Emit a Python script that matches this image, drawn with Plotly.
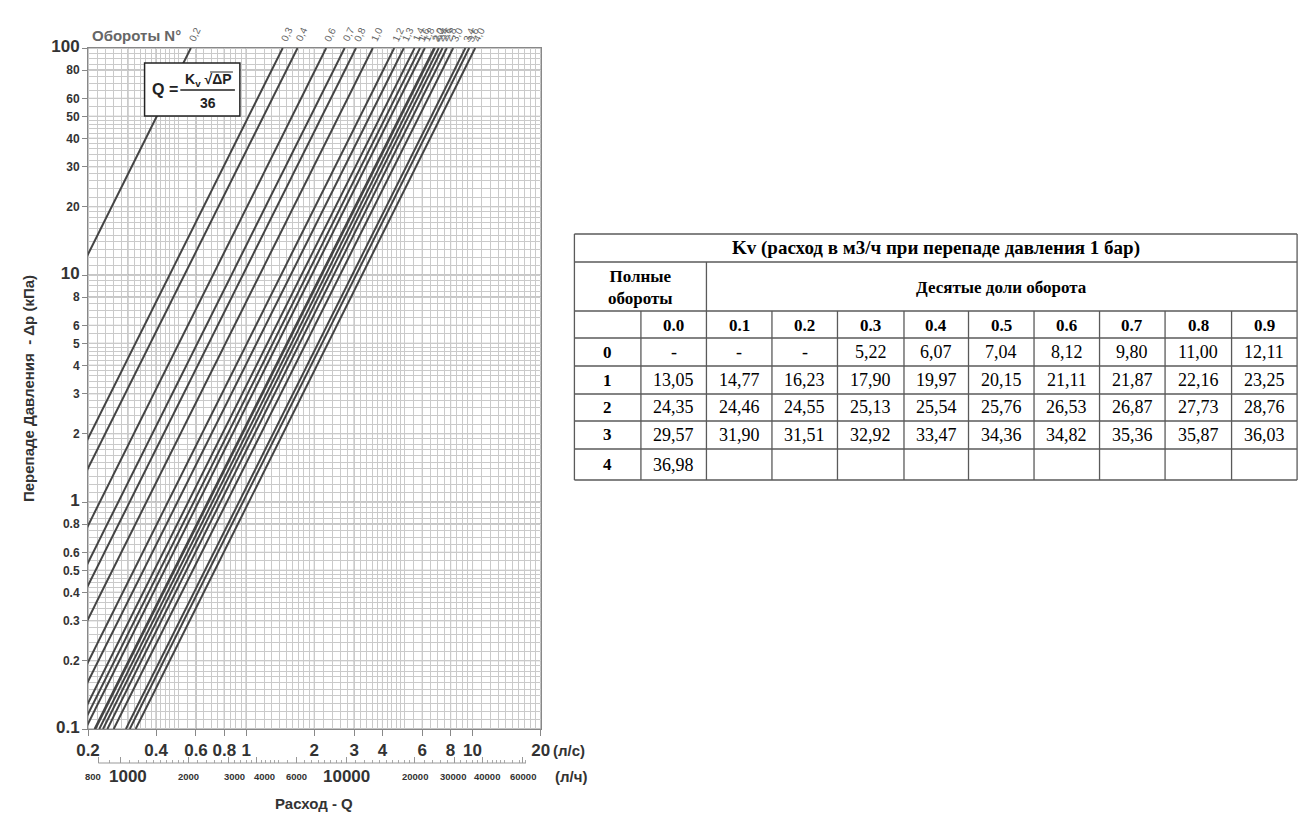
import math
import plotly.graph_objects as go

# линии на графике: обороты и Kv (м3/ч)
line_turns = ["0,2", "0,3", "0,4", "0,6", "0,7", "0,8", "1,0", "1,2", "1,3", "1,4", "1,6",
              "1,8", "2,0", "2,2", "2,4", "2,6", "2,8", "3,0", "3,4", "3,6", "4,0"]
line_kv = [2.05, 5.22, 6.07, 8.12, 9.80, 11.00, 13.05, 16.23, 17.90, 19.97, 21.11,
           22.16, 24.35, 24.55, 25.54, 26.53, 27.73, 29.57, 33.47, 34.82, 36.98]
dp_ends = [0.1, 100]  # кПа

x_ticks = [0.2, 0.4, 0.6, 0.8, 1, 2, 3, 4, 6, 8, 10, 20]
x_major = [0.2, 0.3, 0.4, 0.6, 0.8, 1, 2, 3, 4, 6, 8, 10, 20]
y_ticks = [0.1, 0.2, 0.3, 0.4, 0.5, 0.6, 0.8, 1, 2, 3, 4, 5, 6, 8, 10, 20, 30, 40, 50, 60, 80, 100]
y_big = [0.1, 1, 10, 100]
lh_ticks = [800, 1000, 2000, 3000, 4000, 6000, 10000, 20000, 30000, 40000, 60000]
lh_big = [1000, 10000]
lh_shift = {800: -5, 1000: 8, 3000: 6, 4000: 8, 30000: -2, 40000: 4}  # как в оригинале

# таблица Kv
table_title = "Kv (расход в м3/ч при перепаде давления 1 бар)"
full_turns = ["0", "1", "2", "3", "4"]
tenths = ["0.0", "0.1", "0.2", "0.3", "0.4", "0.5", "0.6", "0.7", "0.8", "0.9"]
kv_row0 = ["-", "-", "-", "5,22", "6,07", "7,04", "8,12", "9,80", "11,00", "12,11"]
kv_row1 = ["13,05", "14,77", "16,23", "17,90", "19,97", "20,15", "21,11", "21,87", "22,16", "23,25"]
kv_row2 = ["24,35", "24,46", "24,55", "25,13", "25,54", "25,76", "26,53", "26,87", "27,73", "28,76"]
kv_row3 = ["29,57", "31,90", "31,51", "32,92", "33,47", "34,36", "34,82", "35,36", "35,87", "36,03"]
kv_row4 = ["36,98", "", "", "", "", "", "", "", "", ""]


def steps(a, b, s):
    n = int(round((b - a) / s))
    return [round(a + i * s, 6) for i in range(n + 1)]


def fine_grid(decades):
    vals = []
    for d in decades:
        vals += steps(1 * d, 2 * d, 0.1 * d) + steps(2 * d, 5 * d, 0.2 * d) + steps(5 * d, 10 * d, 0.5 * d)
    return sorted(set(vals))


x_minor = [v for v in fine_grid([0.1, 1, 10]) if 0.2 <= v <= 20]
y_minor = fine_grid([0.1, 1, 10])

W, H = 1310, 813
ML, MT, MB = 80, 40, 30
PW, PH = W - ML, H - MT - MB


def px(x):
    return (x - ML) / PW


def py(y):
    return (H - MB - y) / PH


CH = "Liberation Sans"
TXT = "#333333"

fig = go.Figure()
for t, kv in zip(line_turns, line_kv):
    fig.add_trace(go.Scatter(
        x=[kv * math.sqrt(p) / 36 for p in dp_ends], y=dp_ends, mode="lines",
        line=dict(color="#444444", width=2), hoverinfo="skip", showlegend=False))
    fig.add_annotation(x=math.log10(kv * 10 / 36), y=1, xref="x", yref="paper",
                       text=t, textangle=-65, showarrow=False, xanchor="center",
                       yanchor="bottom", xshift=4, yshift=2,
                       font=dict(family=CH, size=10, color="#666666"))

# скрытая трасса для второй оси
fig.add_trace(go.Scatter(x=[1], y=[1], xaxis="x2", mode="markers",
                         marker=dict(opacity=0), hoverinfo="skip", showlegend=False))


def fmt(v):
    return ("%g" % v)


y_text = [f"<span style='font-size:{17 if v in y_big else 12}px'>{fmt(v)}</span>" for v in y_ticks]

lh_minor = (steps(800, 2000, 100) + steps(2000, 5000, 200) + steps(5000, 10000, 500)
            + steps(10000, 20000, 1000) + steps(20000, 50000, 2000) + steps(50000, 62000, 4000))

fig.update_layout(
    width=W, height=H, margin=dict(l=ML, r=0, t=MT, b=MB),
    paper_bgcolor="white", plot_bgcolor="white",
    font=dict(family=CH, color=TXT),
    xaxis=dict(type="log", domain=[0, px(536)], range=[math.log10(0.2), math.log10(20)],
               tickvals=x_ticks, ticktext=[fmt(v) for v in x_ticks], tickangle=0,
               tickfont=dict(size=17, weight="bold", color=TXT), ticks="outside",
               ticklen=6, tickcolor="#888888", showgrid=False,
               showline=True, linecolor="#888888", mirror=True, zeroline=False,
               minor=dict(tickvals=x_minor, showgrid=True, gridcolor="#cacaca",
                          gridwidth=0.7, ticks="")),
    xaxis2=dict(type="log", overlaying="x", anchor="free", position=py(755), side="bottom",
                range=[math.log10(0.2), math.log10(20)], showticklabels=False,
                tickvals=[v / 3600 for v in lh_ticks],
                ticks="inside", ticklen=6, tickcolor="#999999", showgrid=False,
                showline=False, zeroline=False,
                minor=dict(tickvals=[v / 3600 for v in lh_minor], ticks="inside",
                           ticklen=3, tickcolor="#aaaaaa", showgrid=False)),
    yaxis=dict(type="log", domain=[py(721), 1], range=[-1, 2],
               tickvals=y_ticks, ticktext=y_text,
               tickfont=dict(size=12, weight="bold", color=TXT), ticks="outside",
               ticklen=5, tickcolor="#888888", showgrid=False,
               showline=True, linecolor="#888888", mirror=True, zeroline=False,
               title=dict(text="Перепаде Давления  - Δp (кПа)",
                          font=dict(size=15, weight="bold", color=TXT), standoff=12),
               minor=dict(tickvals=y_minor, showgrid=True, gridcolor="#cacaca",
                          gridwidth=0.7, ticks="")),
)

# подписи шкалы л/ч
for v in lh_ticks:
    fig.add_annotation(x=math.log10(v / 3600), y=py(768), xref="x", yref="paper",
                       text=str(v), showarrow=False, xanchor="center", yanchor="middle",
                       xshift=lh_shift.get(v, 0),
                       font=dict(family=CH, size=17 if v in lh_big else 9.5,
                                 weight="bold", color=TXT))

shapes = []
# основные линии сетки
for v in x_major:
    shapes.append(dict(type="line", xref="x", yref="paper", x0=v, x1=v,
                       y0=py(721), y1=1, line=dict(color="#8f8f8f", width=1), layer="below"))
for v in y_ticks:
    shapes.append(dict(type="line", xref="paper", yref="y", x0=0, x1=px(536),
                       y0=v, y1=v, line=dict(color="#8f8f8f", width=1), layer="below"))
# линейка л/ч
shapes.append(dict(type="line", xref="x", yref="paper", x0=800 / 3600, x1=62000 / 3600,
                   y0=py(755), y1=py(755), line=dict(color="#999999", width=1)))
# рамка формулы
shapes.append(dict(type="rect", xref="paper", yref="paper", x0=px(137), x1=px(233),
                   y0=py(108), y1=py(55), line=dict(color="#222222", width=1.5),
                   fillcolor="white", layer="above"))
shapes.append(dict(type="line", xref="paper", yref="paper", x0=px(173), x1=px(228),
                   y0=py(82), y1=py(82), line=dict(color="#222222", width=1.5)))
shapes.append(dict(type="line", xref="paper", yref="paper", x0=px(203), x1=px(226),
                   y0=py(64), y1=py(64), line=dict(color="#222222", width=1)))

ann = []


def text(x, y, s, size, bold=True, family=CH, color=TXT, xanchor="center"):
    ann.append(dict(x=px(x), y=py(y), xref="paper", yref="paper", text=s, showarrow=False,
                    xanchor=xanchor, yanchor="middle",
                    font=dict(family=family, size=size, color=color,
                              weight="bold" if bold else "normal")))


text(82, 28, "Обороты N°", 15, color="#666666", xanchor="left")
text(158, 82, "Q =", 16, color="#222222")
text(201, 72, "K<sub>v</sub> √ΔP", 14, color="#222222")
text(201, 95, "36", 14, color="#222222")
text(565, 742, "(л/с)", 15)
text(567, 768, "(л/ч)", 15)
text(308, 795, "Расход - Q", 15)

# таблица
col_x = [570, 637, 703, 769, 835, 902, 967, 1033, 1099, 1165, 1232, 1298]
row_y = [226, 254, 303, 330, 358, 386, 413, 441, 472]
TC = "#5a5a5a"
for y in row_y:
    shapes.append(dict(type="line", xref="paper", yref="paper", x0=px(col_x[0]), x1=px(col_x[-1]),
                       y0=py(y), y1=py(y), line=dict(color=TC, width=1.3)))
for i, x in enumerate(col_x):
    top = 226 if i in (0, len(col_x) - 1) else (254 if i == 2 else 303)
    shapes.append(dict(type="line", xref="paper", yref="paper", x0=px(x), x1=px(x),
                       y0=py(472), y1=py(top), line=dict(color=TC, width=1.3)))

SER = "Liberation Serif"
text((col_x[0] + col_x[-1]) / 2, 240, table_title, 19, family=SER, color="black")
text((col_x[0] + col_x[2]) / 2, 279, "Полные<br>обороты", 17, family=SER, color="black")
text((col_x[2] + col_x[-1]) / 2, 279, "Десятые доли оборота", 17, family=SER, color="black")
centers = [(col_x[i] + col_x[i + 1]) / 2 for i in range(len(col_x) - 1)]
for c, t in zip(centers[1:], tenths):
    text(c, 317, t, 17, family=SER, color="black")
rows = [kv_row0, kv_row1, kv_row2, kv_row3, kv_row4]
for r, (lab, vals) in enumerate(zip(full_turns, rows)):
    yc = (row_y[3 + r] + row_y[4 + r]) / 2
    text(centers[0], yc, lab, 17, family=SER, color="black")
    for c, v in zip(centers[1:], vals):
        if v:
            text(c, yc, v, 18, bold=False, family=SER, color="black")

fig.update_layout(shapes=shapes, annotations=list(fig.layout.annotations) + ann)
fig.write_html("out.html")
